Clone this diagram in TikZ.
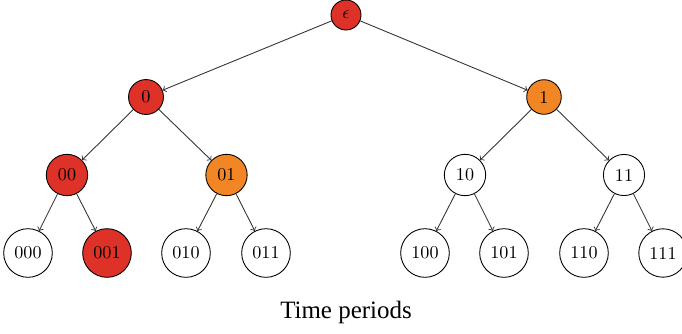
\documentclass[tikz,border=0pt]{standalone}
\usepackage{fontspec}
\newfontfamily\capfont{Liberation Serif}
\definecolor{hotred}{RGB}{222,50,40}
\definecolor{warmorange}{RGB}{242,134,36}

\begin{document}
\begin{tikzpicture}[
    tnode/.style={draw, circle, inner sep=3.95pt, font=\fontsize{10.3}{12}\selectfont},
    hot/.style={tnode, fill=hotred},
    warm/.style={tnode, fill=warmorange},
    >=to, line width=0.5pt]
  \useasboundingbox (0,0) rectangle (13.64,-6.66);

  \node[hot] (e) at (6.92,-0.30) {$\epsilon$};
  \node[hot] (n0) at (2.92,-1.94) {0};
  \node[warm] (n1) at (10.88,-1.94) {1};
  \node[hot] (n00) at (1.34,-3.50) {00};
  \node[warm] (n01) at (4.53,-3.50) {01};
  \node[tnode] (n10) at (9.30,-3.50) {10};
  \node[tnode] (n11) at (12.48,-3.50) {11};
  \node[tnode] (n000) at (0.56,-5.06) {000};
  \node[hot] (n001) at (2.14,-5.06) {001};
  \node[tnode] (n010) at (3.72,-5.06) {010};
  \node[tnode] (n011) at (5.32,-5.06) {011};
  \node[tnode] (n100) at (8.50,-5.06) {100};
  \node[tnode] (n101) at (10.08,-5.06) {101};
  \node[tnode] (n110) at (11.68,-5.06) {110};
  \node[tnode] (n111) at (13.26,-5.06) {111};

  \foreach \a/\b in {e/n0,e/n1,n0/n00,n0/n01,n1/n10,n1/n11,
                     n00/n000,n00/n001,n01/n010,n01/n011,
                     n10/n100,n10/n101,n11/n110,n11/n111}
    \draw[->, black!80] (\a) -- (\b);

  \node[font=\capfont\fontsize{14.2}{16}\selectfont] (cap) at (6.92,-6.24) {Time periods};
\end{tikzpicture}
\end{document}
